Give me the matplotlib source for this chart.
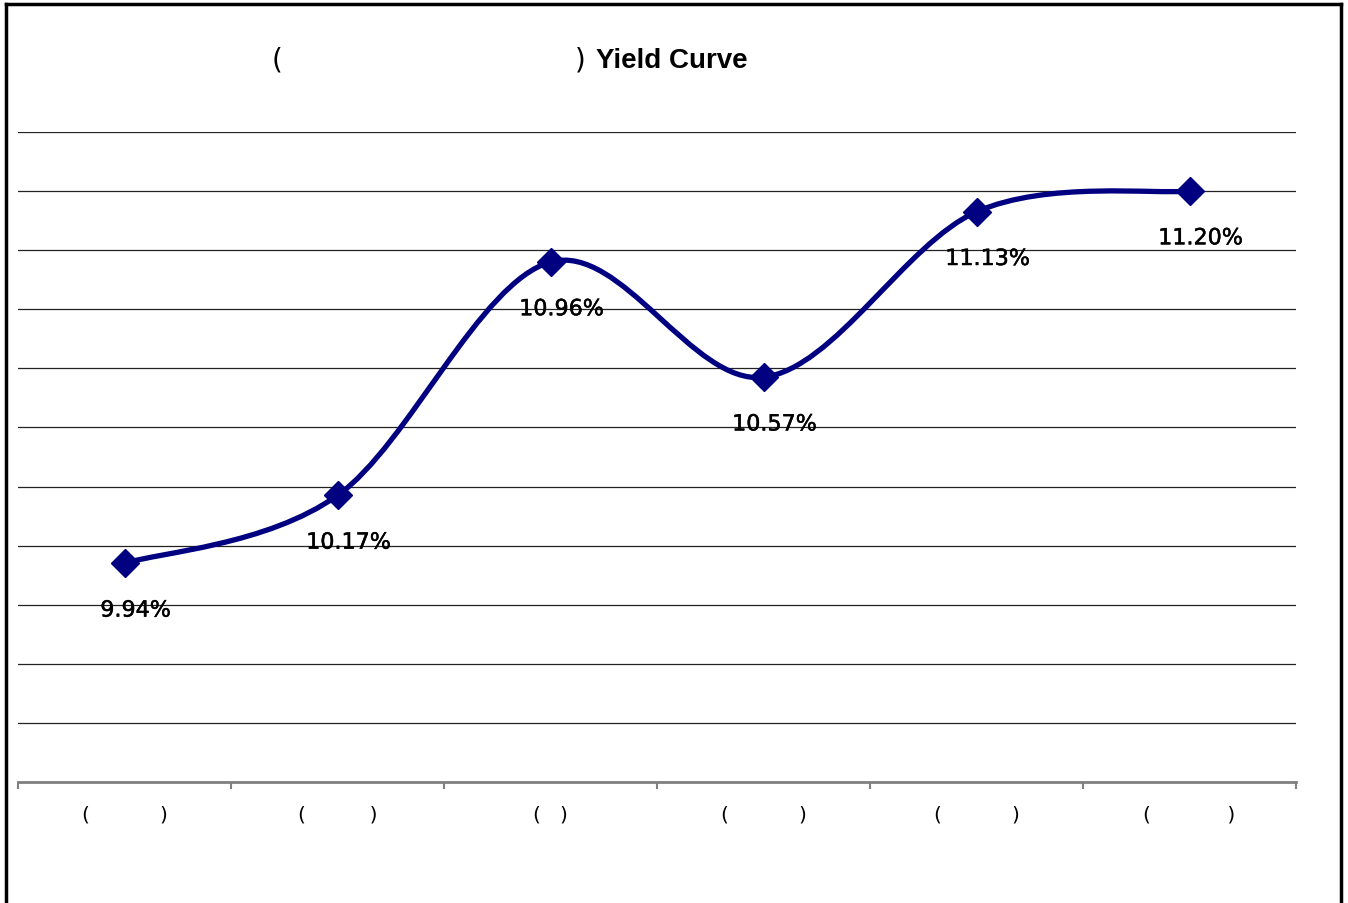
import numpy as np
import matplotlib.pyplot as plt
import matplotlib.patheffects as pe
from matplotlib.path import Path
from matplotlib.patches import PathPatch
from matplotlib.lines import Line2D

# yield by tenor
tenors = ["(           )", "(          )", "(   )", "(           )", "(           )", "(            )"]
yields = [9.94, 10.17, 10.96, 10.57, 11.13, 11.20]
labels = ["9.94%", "10.17%", "10.96%", "10.57%", "11.13%", "11.20%"]

navy = "#000080"

fig = plt.figure(figsize=(13.48, 9.04), dpi=100)
ax = fig.add_axes([18 / 1348, 1 - 783 / 904, 1278 / 1348, 650 / 904])

x = np.arange(len(yields))
y = np.array(yields)

# smoothed line: catmull-rom segments as cubic beziers
px = np.concatenate([[x[0]], x, [x[-1]]])
py = np.concatenate([[y[0]], y, [y[-1]]])
verts = [(x[0], y[0])]
codes = [Path.MOVETO]
for i in range(1, len(px) - 2):
    c1 = (px[i] + (px[i + 1] - px[i - 1]) / 6, py[i] + (py[i + 1] - py[i - 1]) / 6)
    c2 = (px[i + 1] - (px[i + 2] - px[i]) / 6, py[i + 1] - (py[i + 2] - py[i]) / 6)
    verts += [c1, c2, (px[i + 1], py[i + 1])]
    codes += [Path.CURVE4] * 3
ax.add_patch(PathPatch(Path(verts, codes), facecolor="none", edgecolor=navy,
                       lw=3.8, capstyle="round", joinstyle="round", zorder=3))
ax.plot(x, y, ls="none", marker="D", ms=14, color=navy, zorder=4)

thick = [pe.withStroke(linewidth=0.35, foreground="black")]
for xi, yi, lab in zip(x, y, labels):
    ax.annotate(lab, (xi, yi), xytext=(8, -34), textcoords="offset points",
                ha="center", va="center", fontsize=16, color="black",
                family="DejaVu Sans", path_effects=thick, zorder=5)

ax.set_xlim(-0.5, len(yields) - 0.5)
ax.set_ylim(9.2, 11.4)
ax.set_yticks(np.arange(9.2, 11.41, 0.2))
ax.yaxis.grid(True, color="#222222", lw=0.9)
ax.set_axisbelow(True)
ax.tick_params(axis="y", left=False, labelleft=False)

ax.set_xticks(np.arange(-0.5, len(yields), 1.0))
ax.set_xticklabels([])
ax.set_xticks(x, minor=True)
ax.set_xticklabels(tenors, minor=True, fontsize=14.5, family="DejaVu Sans")
ax.tick_params(axis="x", which="major", direction="out", length=5, width=1.5, color="#808080")
ax.tick_params(axis="x", which="minor", length=0, pad=16)

for side in ["left", "right", "top"]:
    ax.spines[side].set_visible(False)
ax.spines["bottom"].set_color("#808080")
ax.spines["bottom"].set_linewidth(2)

# title
fig.text(272 / 1348, 1 - 61 / 904, "(", fontsize=20, va="center", ha="left", family="DejaVu Sans")
fig.text(575 / 1348, 1 - 61 / 904, ")", fontsize=20, va="center", ha="left", family="DejaVu Sans")
fig.text(596 / 1348, 1 - 61 / 904, "Yield Curve", fontsize=20, fontweight="bold",
         va="center", ha="left", family="Liberation Sans")

# outer frame
for xs, ys in [([6, 6], [-5, 5]), ([6, 1341], [5, 5]), ([1341, 1341], [5, -5])]:
    fig.add_artist(Line2D([v / 1348 for v in xs],
                          [1 - v / 904 if v > 0 else 0.0 for v in ys],
                          color="black", lw=2.5, transform=fig.transFigure))

fig.savefig("out.png", dpi=100)
